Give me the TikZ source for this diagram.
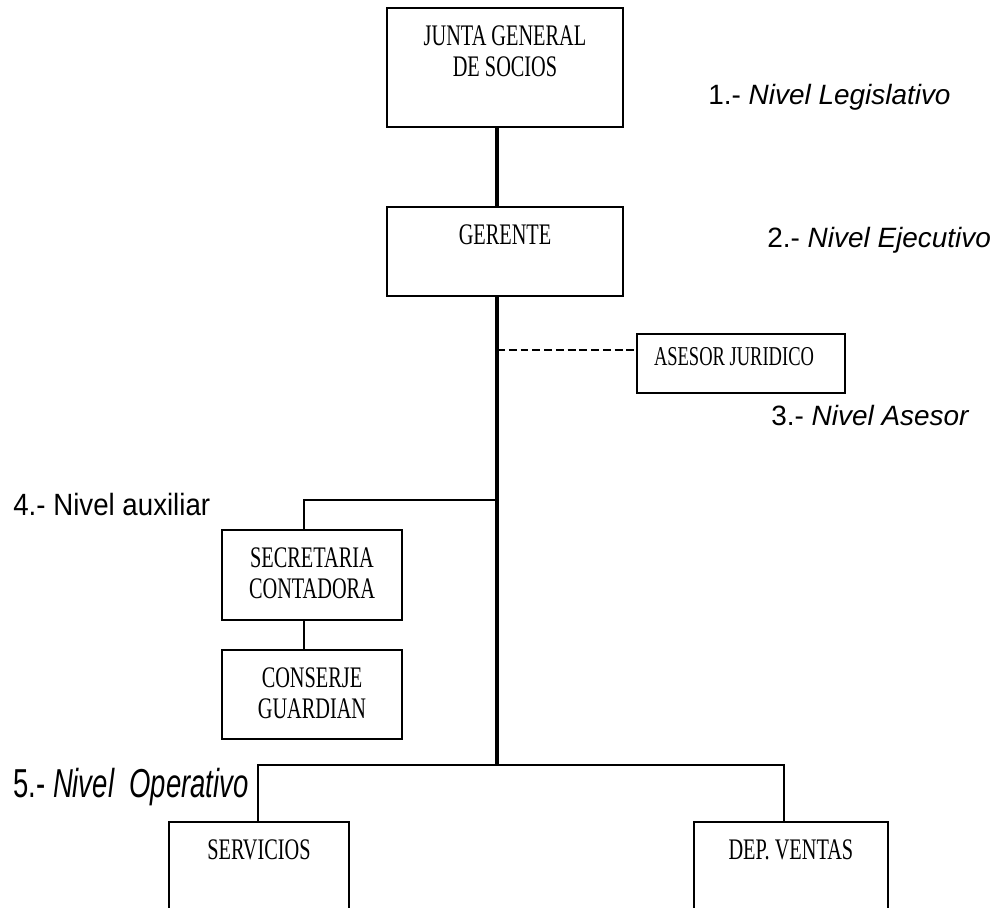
\documentclass[tikz,border=0pt]{standalone}
\usepackage{fontspec}
\newfontfamily\boxfont[FakeStretch=0.68]{Liberation Serif}
\newfontfamily\levelfont{Liberation Sans}
\newfontfamily\narrowfont[FakeStretch=0.9]{Liberation Sans}
\newfontfamily\condfont[FakeStretch=0.68]{Liberation Sans}
\usetikzlibrary{calc,positioning}
\tikzstyle{box}    =[draw, rectangle, line width=1.1pt,
                     minimum width=3.6cm, inner sep=0pt]
\tikzstyle{boxtext}=[anchor=north, yshift=-0.36cm, inner sep=0pt,
                     align=center, font=\boxfont\fontsize{17}{18}\selectfont]
\tikzstyle{level}  =[anchor=base west, inner sep=0pt,
                     font=\levelfont\fontsize{15.9}{18}\selectfont]
\tikzstyle{link}   =[line width=1.1pt]
\tikzstyle{trunk}  =[line width=1.8pt]

\begin{document}
\begin{tikzpicture}[x=0.02cm, y=-0.02cm, on grid]
    \clip (0,0) rectangle (1000,908);
    % boxes
    \node (junta) [box, minimum width=4.72cm, minimum height=2.38cm,
        label={[boxtext]north:JUNTA GENERAL\\DE SOCIOS}] at (505,67.5) {};
    \node (gerente) [box, minimum width=4.72cm, minimum height=1.78cm,
        label={[boxtext]north:GERENTE}, below=3.68cm of junta] {};
    \node (asesor) [box, minimum width=4.16cm, minimum height=1.18cm,
        label={[boxtext, yshift=0.08cm, xshift=-0.14cm,
        font=\boxfont\fontsize{15.5}{18}\selectfont]north:ASESOR JURIDICO}] at (741,363.5) {};
    \node (secretaria) [box, minimum height=1.8cm,
        label={[boxtext]north:SECRETARIA\\CONTADORA}] at (312,575) {};
    \node (conserje) [box, minimum height=1.78cm,
        label={[boxtext]north:CONSERJE\\GUARDIAN}, below=2.39cm of secretaria] {};
    \node (servicios) [box, minimum height=2.4cm,
        label={[boxtext]north:SERVICIOS}] at (259,882) {};
    \node (ventas) [box, minimum width=3.88cm, minimum height=2.4cm,
        label={[boxtext]north:DEP. VENTAS}, right=10.64cm of servicios] {};

    % levels
    \node (lvlA) [level] at (708,105) {1.- \textit{Nivel Legislativo}};
    \node (lvlB) [level] at (767,248) {2.- \textit{Nivel Ejecutivo}};
    \node (lvlC) [level] at (771,425) {3.- \textit{Nivel Asesor}};
    \node (lvlD) [level, font=\narrowfont\fontsize{17.5}{18}\selectfont]
        at (13,515) {4.- Nivel auxiliar};
    \node (lvlE) [level, font=\condfont\fontsize{23}{24}\selectfont]
        at (13,797) {5.- \textit{Nivel\ \ Operativo}};

    % connectors
    \coordinate (tk)   at (497,0);
    \coordinate (dsh)  at (497,350);
    \coordinate (aux)  at (497,500);
    \coordinate (auxb) at (304,500);
    \coordinate (opr)  at (497,765);
    \coordinate (opl)  at (258,765);
    \coordinate (opv)  at (784,765);
    \draw[trunk] (junta.south -| tk) -- (gerente.north -| tk);
    \draw[trunk] (gerente.south -| tk) -- (opr);
    \draw[line width=1.1pt, dash pattern=on 4.5pt off 2.2pt] (dsh) -- (dsh -| asesor.west);
    \draw[link] (aux) -- (auxb) -- (auxb |- secretaria.north);
    \draw[link] (secretaria.south -| auxb) -- (conserje.north -| auxb);
    \draw[link] (opl |- servicios.north) -- (opl) -- (opv) -- (opv |- ventas.north);
\end{tikzpicture}
\end{document}
